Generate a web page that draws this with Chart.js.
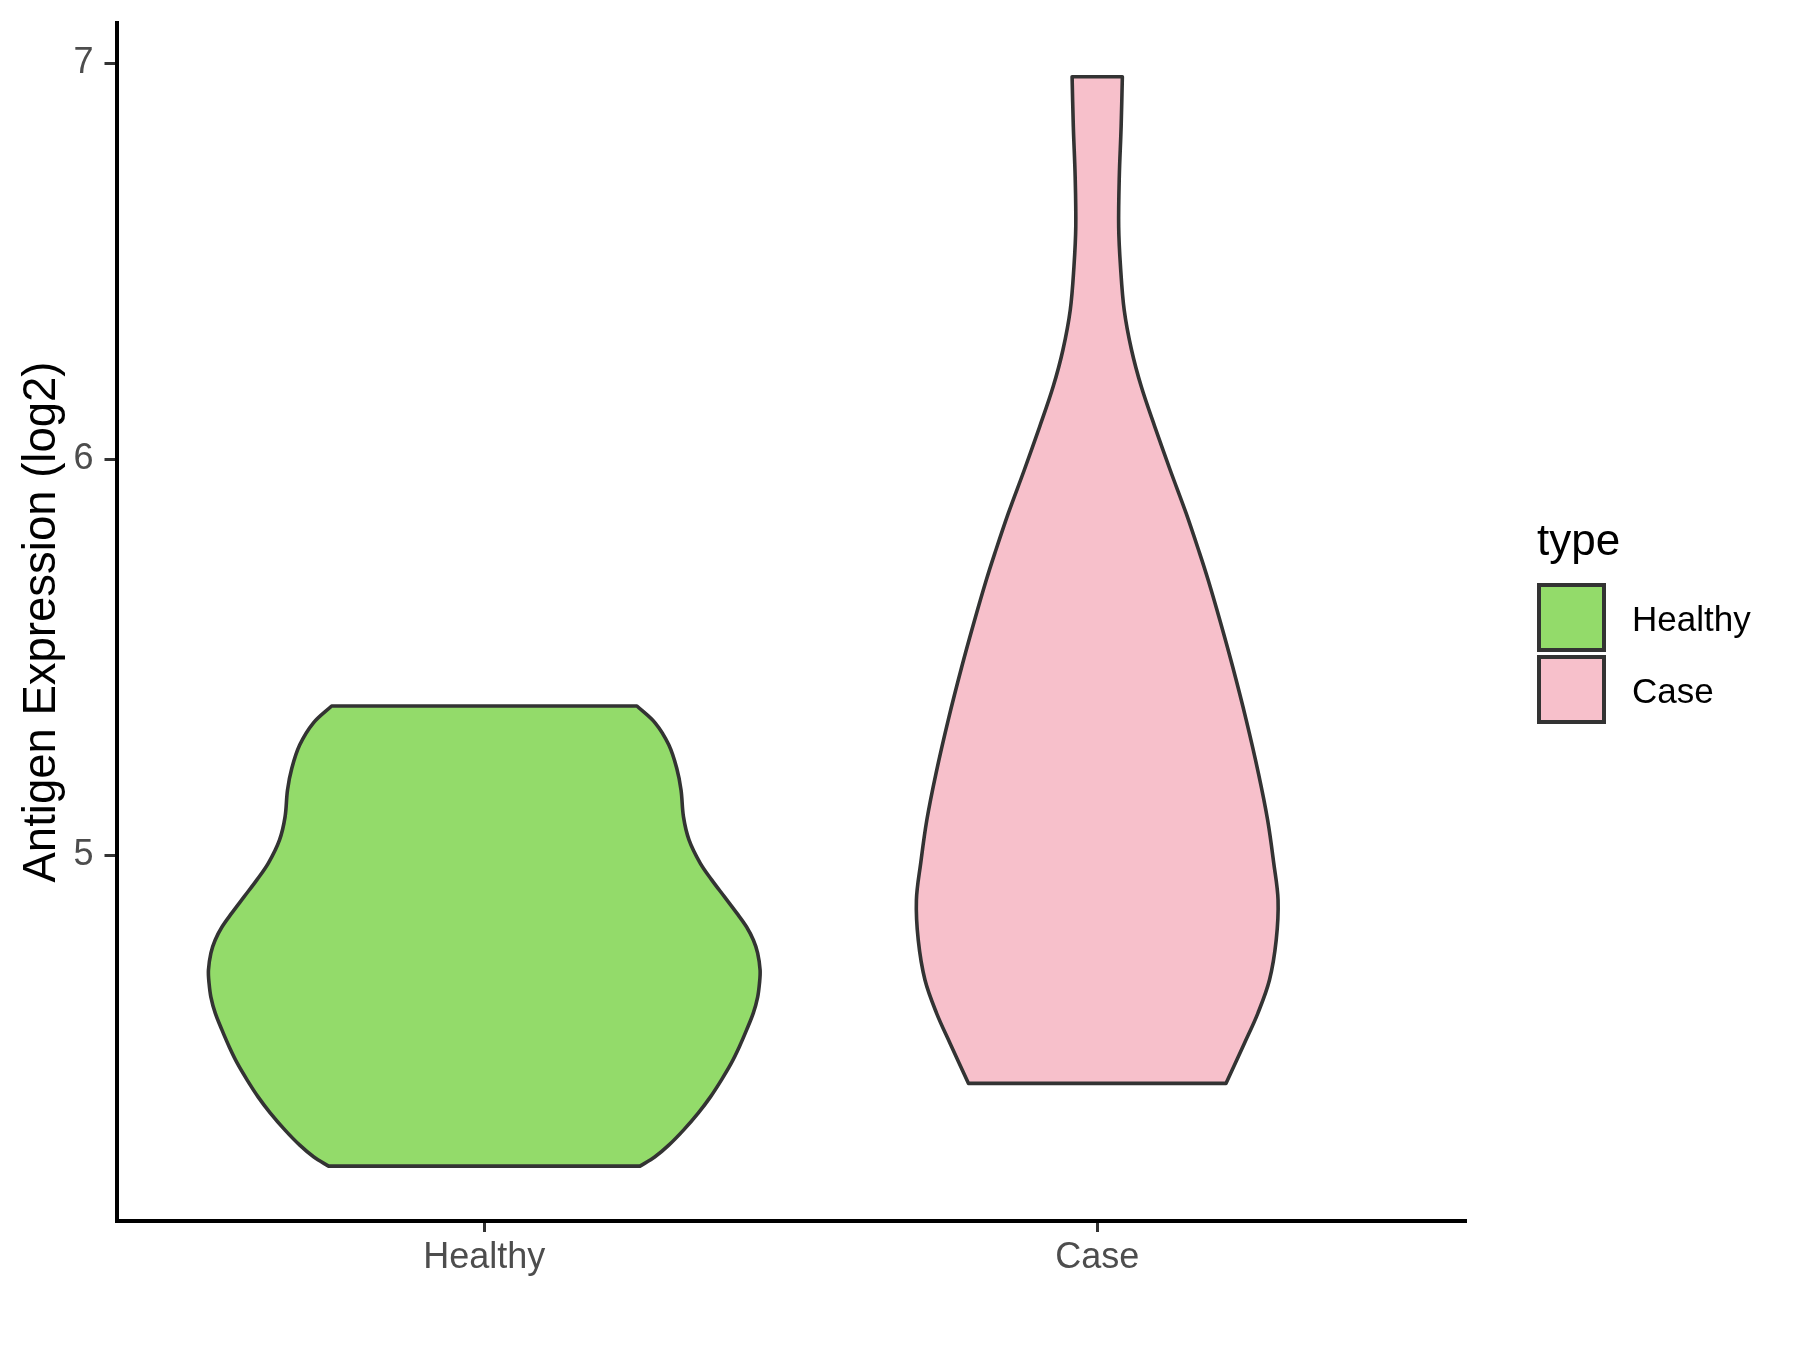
<!DOCTYPE html>
<html>
<head>
<meta charset="utf-8">
<title>Antigen Expression violin</title>
<script src="https://cdn.jsdelivr.net/npm/chart.js@4.4.1/dist/chart.umd.min.js"></script>
<style>
  body { margin: 0; background: #fff; }
  #wrap { position: relative; width: 1800px; height: 1350px; }
  #legend { position: absolute; left: 0; top: 0; font-family: 'Liberation Sans', Arial, sans-serif; color: #000; }
  #legend .title { position: absolute; left: 1537px; top: 518px; font-size: 44px; line-height: 44px; white-space: nowrap; }
  #legend .box { position: absolute; left: 1537px; width: 69px; height: 69px; box-sizing: border-box; border: 4px solid #333; }
  #legend .label { position: absolute; left: 1632px; font-size: 35px; line-height: 35px; white-space: nowrap; }
</style>
</head>
<body>
<div id="wrap">
  <canvas id="violin" width="1800" height="1350"></canvas>
  <div id="legend"></div>
</div>
<script>
// categories and colours
const categories = ['Healthy', 'Case'];
const fillColors = ['#93DB6A', '#F7C0CB'];

// y ticks
const yTicks = [5, 6, 7];

// violin outlines: level (log2) and half width (in category units), bottom to top
const healthyLevels = [4.215, 4.238, 4.268, 4.306, 4.349, 4.390, 4.433, 4.475, 4.516, 4.559,
                       4.602, 4.642, 4.677, 4.710, 4.753, 4.786, 4.819, 4.854, 4.895, 4.938,
                       4.981, 5.039, 5.097, 5.165, 5.220, 5.279, 5.334, 5.377];
const healthyHalfWidth = [0.254, 0.278, 0.301, 0.325, 0.349, 0.369, 0.387, 0.403, 0.416, 0.428,
                          0.439, 0.446, 0.449, 0.450, 0.446, 0.439, 0.428, 0.412, 0.392, 0.371,
                          0.352, 0.334, 0.325, 0.321, 0.314, 0.301, 0.279, 0.249];

const caseLevels = [4.424, 4.525, 4.601, 4.685, 4.786, 4.887, 4.980, 5.089, 5.207, 5.342,
                    5.476, 5.594, 5.695, 5.763, 5.864, 5.973, 6.082, 6.183, 6.276, 6.377,
                    6.486, 6.587, 6.714, 6.840, 6.966];
const caseHalfWidth = [0.210, 0.240, 0.262, 0.281, 0.292, 0.295, 0.288, 0.278, 0.263, 0.243,
                       0.221, 0.200, 0.181, 0.167, 0.145, 0.119, 0.094, 0.072, 0.056, 0.044,
                       0.038, 0.035, 0.036, 0.039, 0.041];

// closed outline for one violin: left side up, right side down.
// top and bottom-right corners are doubled so the flat edges stay straight with tension on
function outline(center, levels, half) {
    const n = levels.length;
    const pts = [];
    for (let i = 0; i < n; i++) pts.push({x: center - half[i], y: levels[i]});
    pts.push({x: center - half[n - 1], y: levels[n - 1]});
    pts.push({x: center + half[n - 1], y: levels[n - 1]});
    for (let i = n - 1; i >= 0; i--) pts.push({x: center + half[i], y: levels[i]});
    pts.push({x: center + half[0], y: levels[0]});
    pts.push({x: center - half[0], y: levels[0]});
    return pts;
}

function violinDataset(i, levels, half) {
    return {
        label: categories[i],
        data: outline(i + 1, levels, half),
        showLine: true,
        fill: 'shape',
        backgroundColor: fillColors[i],
        borderColor: '#333333',
        borderWidth: 3.6,
        borderCapStyle: 'round',
        borderJoinStyle: 'round',
        tension: 0.35,
        pointRadius: 0,
        pointHoverRadius: 0
    };
}

const font = "'Liberation Sans', Arial, sans-serif";

const chart = new Chart(document.getElementById('violin'), {
    type: 'scatter',
    data: {
        datasets: [
            violinDataset(0, healthyLevels, healthyHalfWidth),
            violinDataset(1, caseLevels, caseHalfWidth)
        ]
    },
    options: {
        responsive: false,
        animation: false,
        devicePixelRatio: 1,
        events: [],
        layout: { padding: { top: 23, right: 335, bottom: 0, left: 0 } },
        plugins: {
            legend: { display: false },
            tooltip: { enabled: false }
        },
        scales: {
            x: {
                type: 'linear',
                min: 0.4,
                max: 2.6,
                afterBuildTicks: (scale) => { scale.ticks = categories.map((c, i) => ({value: i + 1})); },
                afterFit: (scale) => {
                    scale.height = 129;
                    scale.paddingLeft = 0;
                    scale.paddingRight = 0;
                },
                ticks: {
                    autoSkip: false,
                    maxRotation: 0,
                    padding: 4,
                    color: '#4D4D4D',
                    font: { family: font, size: 36 },
                    callback: (v) => categories[v - 1]
                },
                grid: { drawOnChartArea: false, drawTicks: true, tickLength: 11, color: '#333333', lineWidth: 3 },
                border: { display: true, color: '#000000', width: 4 }
            },
            y: {
                type: 'linear',
                min: 4.0765,
                max: 7.1018,
                afterBuildTicks: (scale) => { scale.ticks = yTicks.map(v => ({value: v})); },
                afterFit: (scale) => {
                    scale.width = 116.5;
                    scale.paddingTop = 0;
                    scale.paddingBottom = 0;
                },
                ticks: {
                    padding: 11,
                    color: '#4D4D4D',
                    font: { family: font, size: 36 }
                },
                grid: { drawOnChartArea: false, drawTicks: true, tickLength: 12, color: '#333333', lineWidth: 3 },
                border: { display: true, color: '#000000', width: 4 },
                title: {
                    display: true,
                    text: 'Antigen Expression (log2)',
                    color: '#000000',
                    font: { family: font, size: 45.5 },
                    padding: { top: 14.7, bottom: 0 }
                }
            }
        }
    }
});

// legend in html, built from the datasets
const legend = document.getElementById('legend');
let html = '<div class="title">type</div>';
chart.data.datasets.forEach((ds, i) => {
    html += '<div class="box" style="top:' + (583 + i * 72) + 'px;background:' + ds.backgroundColor + '"></div>';
    html += '<div class="label" style="top:' + (601 + i * 72) + 'px">' + ds.label + '</div>';
});
legend.innerHTML = html;
</script>
</body>
</html>
